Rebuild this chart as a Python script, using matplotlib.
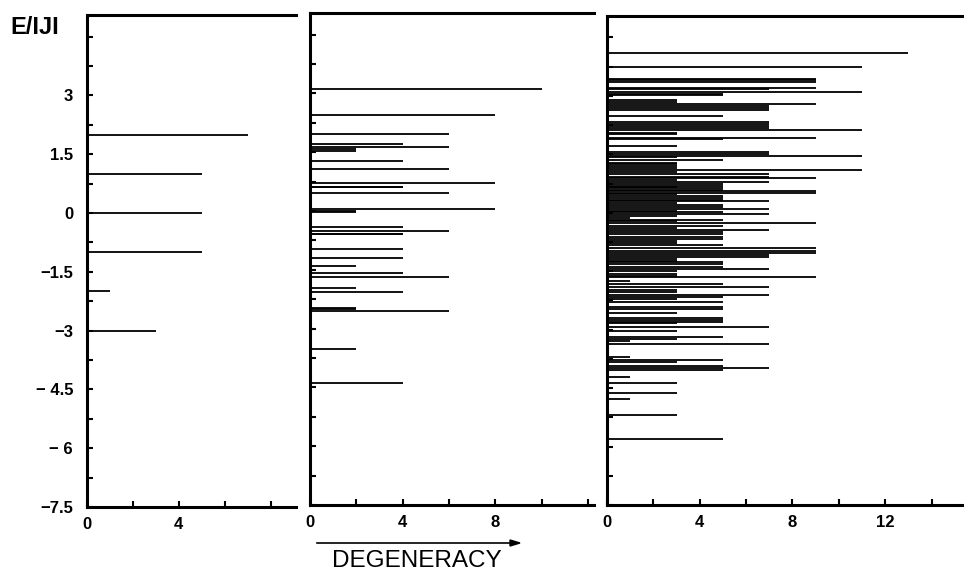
import numpy as np
import matplotlib.pyplot as plt
from matplotlib.ticker import MultipleLocator

plt.rcParams['font.family'] = ['Liberation Sans', 'DejaVu Sans']

# energy levels E/|J| and their degeneracies, one pair of lists per panel
p1_energy = [2.0, 1.0, 0.0, -1.0, -2.0, -3.0]
p1_degen = [7, 5, 5, 5, 1, 3]

p2_energy = [3.10, 2.44, 1.96, 1.70, 1.62, 1.57, 1.54, 1.27, 1.06, 0.71, 0.62, 0.60,
             0.46, 0.06, 0.00, -0.03, -0.42, -0.52, -0.58, -0.60, -0.96, -1.19, -1.40,
             -1.57, -1.68, -1.97, -2.07, -2.48, -2.50, -2.54, -3.52, -4.39]
p2_degen = [10, 8, 6, 4, 6, 2, 2, 4, 6, 8, 4, 4,
            6, 8, 2, 2, 4, 6, 4, 4, 4, 4, 2,
            4, 6, 2, 4, 2, 2, 6, 2, 4]

p3_energy = [4.11, 3.73, 3.44, 3.40, 3.36, 3.21, 3.17, 3.10, 3.06, 3.02, 2.90, 2.85,
             2.80, 2.73, 2.69, 2.65, 2.49, 2.32, 2.27, 2.22, 2.18, 2.12, 2.06, 2.01,
             1.93, 1.89, 1.72, 1.57, 1.52, 1.46, 1.42, 1.35, 1.29, 1.25, 1.20, 1.15,
             1.09, 1.04, 0.99, 0.93, 0.89, 0.85, 0.80, 0.75, 0.69, 0.66, 0.63, 0.58,
             0.56, 0.50, 0.47, 0.44, 0.38, 0.32, 0.31, 0.26, 0.21, 0.15, 0.09, 0.05,
             0.02, -0.03, -0.08, -0.14, -0.18, -0.22, -0.25, -0.33, -0.38, -0.43, -0.49,
             -0.55, -0.61, -0.67, -0.72, -0.78, -0.83, -0.91, -0.97, -1.02, -1.09, -1.13,
             -1.19, -1.23, -1.26, -1.32, -1.38, -1.44, -1.49, -1.56, -1.61, -1.66, -1.74,
             -1.83, -1.90, -1.98, -2.04, -2.10, -2.15, -2.21, -2.30, -2.43, -2.48, -2.56,
             -2.70, -2.75, -2.80, -2.84, -2.92, -3.03, -3.18, -3.24, -3.28, -3.37, -3.71,
             -3.78, -3.84, -3.94, -3.99, -4.04, -4.22, -4.37, -4.63, -4.78, -5.18, -5.80]
p3_degen = [13, 11, 9, 9, 9, 9, 7, 11, 5, 5, 3, 3,
            9, 7, 7, 7, 5, 7, 7, 7, 7, 11, 3, 3,
            9, 5, 3, 7, 7, 11, 3, 5, 3, 3, 3, 3,
            11, 3, 7, 7, 9, 3, 7, 5, 5, 3, 5, 5,
            9, 9, 3, 5, 5, 5, 7, 3, 5, 5, 7, 3,
            5, 7, 3, 1, 5, 3, 9, 5, 3, 7, 5,
            5, 5, 5, 3, 3, 5, 9, 9, 9, 7, 7,
            3, 3, 5, 5, 5, 7, 3, 3, 3, 9, 1,
            5, 7, 3, 3, 7, 5, 3, 5, 5, 5, 3,
            5, 5, 5, 3, 7, 3, 5, 3, 1, 7, 1,
            5, 3, 5, 7, 5, 1, 3, 3, 1, 3, 5]

y_labels = ['3', '1.5', '0', '\u22121.5', '\u22123', '\u2212 4.5', '\u2212 6', '\u22127.5']
y_label_vals = [3, 1.5, 0, -1.5, -3, -4.5, -6, -7.5]

fig = plt.figure(figsize=(9.64, 5.71), dpi=100)

# axes rectangles in figure pixels: left, right, top, bottom
panels = [
    (p1_energy, p1_degen, 87, 296, 15, 507, 9.1, [0, 4]),
    (p2_energy, p2_degen, 310, 594, 13, 505, 12.25, [0, 4, 8]),
    (p3_energy, p3_degen, 607, 964, 16, 505, 15.4, [0, 4, 8, 12]),
]

W, H = 964, 571
for i, (energy, degen, l, r, t, b, xmax, xlab) in enumerate(panels):
    ax = fig.add_axes([l / W, 1 - b / H, (r - l) / W, (b - t) / H])
    ax.hlines(energy, 0, degen, color='black', lw=1.3)
    ax.set_xlim(0, xmax)
    ax.set_ylim(-7.5, 5.05)
    ax.spines['right'].set_visible(False)
    for s in ['left', 'bottom', 'top']:
        ax.spines[s].set_linewidth(2.2)
    xt = list(range(0, int(xmax) + 1, 2))
    ax.set_xticks(xt)
    ax.set_xticklabels([str(v) if v in xlab else '' for v in xt])
    ax.yaxis.set_major_locator(MultipleLocator(1.5))
    ax.yaxis.set_minor_locator(MultipleLocator(0.75))
    ax.tick_params(axis='both', which='both', direction='in', length=4, width=1.5,
                   labelsize=12, pad=7)
    ax.tick_params(axis='x', which='both', top=False)
    ax.tick_params(axis='y', which='both', right=False)
    for lab in ax.get_xticklabels():
        lab.set_fontweight('bold')
    if i == 0:
        ax.set_yticks(y_label_vals)
        ax.set_yticklabels(y_labels, fontweight='bold')
        ax.tick_params(axis='y', pad=10)
    else:
        ax.set_yticklabels([])

fig.text(10 / W, 1 - 28 / H, 'E/IJI', fontsize=17, fontweight='bold', ha='left', va='center')
fig.text(417 / W, 1 - 561 / H, 'DEGENERACY', fontsize=17.5, ha='center', va='center')
fig.add_artist(plt.Line2D([317 / W, 511 / W], [1 - 543 / H, 1 - 543 / H], color='black', lw=1.2))
fig.patches.append(plt.Polygon([[510 / W, 1 - 540 / H], [520 / W, 1 - 543 / H], [510 / W, 1 - 546 / H]],
                               closed=True, color='black', transform=fig.transFigure, figure=fig))

fig.savefig('out.png', dpi=100)
